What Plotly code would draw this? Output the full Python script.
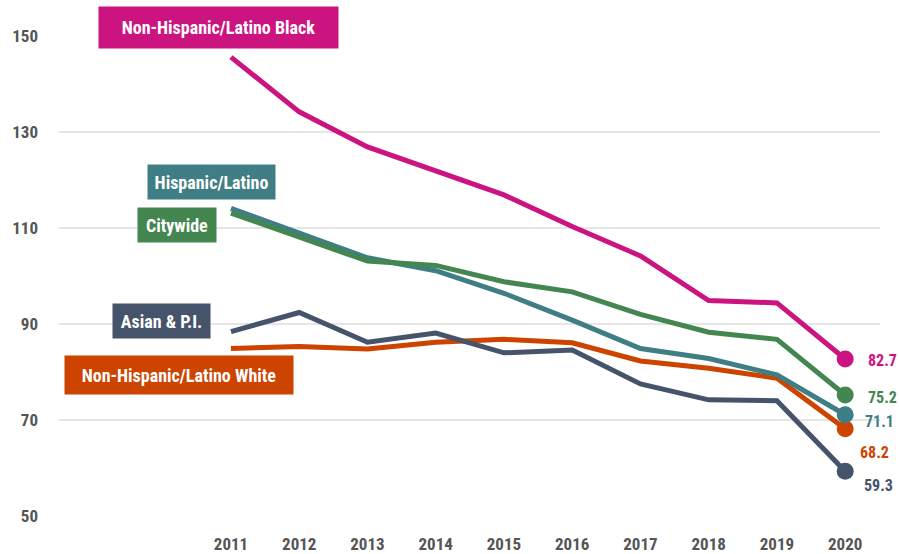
import plotly.graph_objects as go

years = [2011, 2012, 2013, 2014, 2015, 2016, 2017, 2018, 2019, 2020]
black = [145.6, 134.2, 126.9, 121.8, 116.9, 110.3, 104.2, 94.9, 94.4, 82.7]
hispanic = [114.1, 108.9, 103.8, 101.1, 96.4, 90.8, 84.9, 82.8, 79.4, 71.1]
citywide = [113.1, 108.2, 103.1, 102.2, 98.8, 96.7, 92.0, 88.3, 86.8, 75.2]
asian = [88.4, 92.4, 86.2, 88.1, 84.0, 84.6, 77.5, 74.2, 74.0, 59.3]
white = [84.9, 85.3, 84.8, 86.2, 86.8, 86.1, 82.3, 80.8, 78.7, 68.2]

names = ["Non-Hispanic/Latino Black", "Hispanic/Latino", "Citywide", "Asian & P.I.", "Non-Hispanic/Latino White"]
colors = ["#CC1480", "#3F7E84", "#438650", "#45536B", "#CC4400"]
series = [black, hispanic, citywide, asian, white]
y_ticks = [50, 70, 90, 110, 130, 150]

FONT = "Roboto Condensed, Liberation Sans Narrow, Roboto, sans-serif"

W, H = 899, 554
PL, PR, PT, PB = 59, 880, 36, 516  # plot area in screen px
L, T = PL, PT
R = W - PR
B = H - PB

def paper_x(px):
    return (px - PL) / (PR - PL)

def paper_y(py):
    return 1 - (py - PT) / (PB - PT)

fig = go.Figure()
order = [4, 3, 1, 2, 0]
for i in order:
    fig.add_trace(go.Scatter(
        x=years, y=series[i], mode="lines", line=dict(color=colors[i], width=5),
        name=names[i], showlegend=False, hoverinfo="skip", cliponaxis=False))
for i in order:
    fig.add_trace(go.Scatter(
        x=[years[-1]], y=[series[i][-1]], mode="markers",
        marker=dict(color=colors[i], size=17), showlegend=False, cliponaxis=False,
        hoverinfo="skip"))

annotations = []
# series name boxes: (center px x, center px y, width, height) in screen px
boxes = [
    (218.5, 27.5, 239, 41),
    (211.5, 182, 127, 34),
    (177, 225, 78, 34),
    (161.5, 321, 97, 34),
    (179, 375, 228, 38),
]
for i, (cx, cy, bw, bh) in enumerate(boxes):
    annotations.append(dict(
        x=paper_x(cx), y=paper_y(cy), xref="paper", yref="paper", text="<b>%s</b>" % names[i],
        showarrow=False, bgcolor=colors[i], width=bw, height=bh, borderpad=0,
        align="center", valign="middle", xanchor="center", yanchor="middle",
        font=dict(family=FONT, size=18, color="white")))

# end value labels (left px x, center px y) in screen px
val_pos = [(867, 360), (864, 421), (867, 397), (863, 485), (859, 452)]
for i, (lx, ly) in enumerate(val_pos):
    annotations.append(dict(
        x=paper_x(lx), y=paper_y(ly), xref="paper", yref="paper", text="<b>%.1f</b>" % series[i][-1],
        showarrow=False, xanchor="left", yanchor="middle", borderpad=0,
        font=dict(family=FONT, size=16, color=colors[i])))

fig.update_layout(
    width=W, height=H, margin=dict(l=L, r=R, t=T, b=B, autoexpand=False),
    plot_bgcolor="white", paper_bgcolor="white",
    annotations=annotations,
    font=dict(family=FONT, color="#555555", size=17),
    xaxis=dict(range=[2008.48, 2020.51], tickvals=years, ticktext=["<b>%d</b>" % y for y in years],
               showgrid=False, zeroline=False, showline=False, ticks="", automargin=False,
               ticklabelstandoff=16, tickfont=dict(family=FONT, size=17, color="#555555")),
    yaxis=dict(range=[50, 150], tickvals=y_ticks, ticktext=["<b>%d</b>" % v for v in y_ticks],
               showgrid=True, gridcolor="#E6E6E6", gridwidth=2, zeroline=False, showline=False,
               ticks="", automargin=False, ticklabelstandoff=20,
               tickfont=dict(family=FONT, size=17, color="#555555")),
)

fig.write_html("out.html", config={"displayModeBar": False},
               post_script="document.body.style.margin='0';document.body.style.overflow='hidden';")
